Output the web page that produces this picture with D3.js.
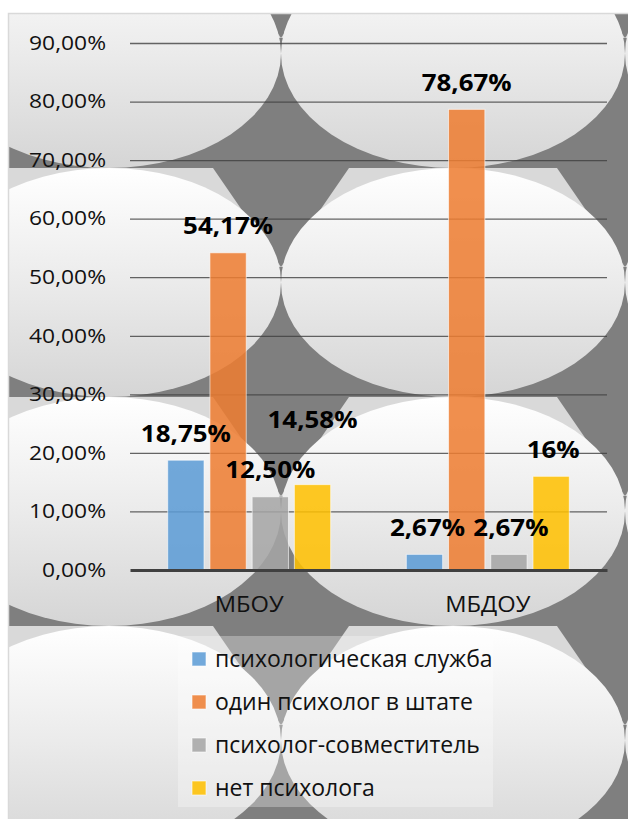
<!DOCTYPE html>
<html><head><meta charset="utf-8">
<script src="https://cdn.jsdelivr.net/npm/d3@7/dist/d3.min.js"></script>
<style>body{margin:0;background:#fff}svg{display:block}</style>
</head><body>
<svg id="chart" width="628" height="819"></svg>
<script>
// ---- data ----
const categories = ["МБОУ", "МБДОУ"];
const seriesNames = ["психологическая служба", "один психолог в штате", "психолог-совместитель", "нет психолога"];
const seriesColors = ["#5b9bd5", "#ed7d31", "#a5a5a5", "#ffc000"];
const valuesMBOU = [18.75, 54.17, 12.50, 14.58];
const valuesMBDOU = [2.67, 78.67, 2.67, 16];
const labelsMBOU = ["18,75%", "54,17%", "12,50%", "14,58%"];
const labelsMBDOU = ["2,67%", "78,67%", "2,67%", "16%"];
const yTicks = [0, 10, 20, 30, 40, 50, 60, 70, 80, 90];
const yTickLabels = ["0,00%", "10,00%", "20,00%", "30,00%", "40,00%", "50,00%", "60,00%", "70,00%", "80,00%", "90,00%"];

// ---- layout ----
const FONT = "'Open Sans', 'Noto Sans', sans-serif";
const plot = {left: 130, right: 607, top: 43, bottom: 570};
const labelShift = [[[0,0],[0,0],[0,0],[0,-38]], [[3,0],[0,0],[2,0],[2,0]]];
const svg = d3.select("#chart");
const defs = svg.append("defs");

// chart area clip
defs.append("clipPath").attr("id", "areaClip").append("rect")
  .attr("x", 9).attr("y", 14).attr("width", 640).attr("height", 820);
const tileW = 344, tileH = 229, tileX0 = -63, tileY0 = -61;
defs.append("clipPath").attr("id", "tileClip").append("rect")
  .attr("x", 0).attr("y", 0).attr("width", tileW).attr("height", tileH);
const grad = defs.append("linearGradient").attr("id", "bubble")
  .attr("x1", 0).attr("y1", 0).attr("x2", 0).attr("y2", 1);
grad.append("stop").attr("offset", 0).attr("stop-color", "#ffffff");
grad.append("stop").attr("offset", 0.5).attr("stop-color", "#ebebeb");
grad.append("stop").attr("offset", 1).attr("stop-color", "#d5d5d5");

// ---- background texture ----
const bg = svg.append("g").attr("clip-path", "url(#areaClip)");
bg.append("rect").attr("x", 0).attr("y", 0).attr("width", 700).attr("height", 900).attr("fill", "#7f7f7f");
for (let r = 0; r < 4; r++) {
  for (let c = 0; c < 3; c++) {
    const t = bg.append("g")
      .attr("transform", `translate(${tileX0 + c * tileW},${tileY0 + r * tileH})`)
      .attr("clip-path", "url(#tileClip)");
    t.append("polygon").attr("points", "68,0 276,0 344,99 0,99").attr("fill", "#d9d9d9");
    t.append("ellipse").attr("cx", tileW / 2).attr("cy", tileH / 2)
      .attr("rx", tileW / 2).attr("ry", tileH / 2).attr("fill", "url(#bubble)");
  }
}
// frame
svg.append("rect").attr("x", 8.5).attr("y", 13.5).attr("width", 640).attr("height", 820)
  .attr("fill", "none").attr("stroke", "#d9d9d9").attr("stroke-width", 1.5);

// legend box
svg.append("rect").attr("x", 178).attr("y", 636).attr("width", 315).attr("height", 171)
  .attr("fill", "#ffffff").attr("fill-opacity", 0.3);

// ---- scales ----
const x0 = d3.scaleBand().domain(categories).range([plot.left, plot.right])
  .paddingInner(0.317).paddingOuter(0.158);
const x1 = d3.scaleBand().domain(d3.range(seriesNames.length)).range([0, x0.bandwidth()])
  .paddingInner(0.14);
const y = d3.scaleLinear().domain([0, 90]).range([plot.bottom, plot.top]);

// gridlines
const grid = svg.append("g").attr("transform", `translate(${plot.left},0)`)
  .call(d3.axisLeft(y).tickValues(yTicks.slice(1)).tickSize(-(plot.right - plot.left)).tickFormat(""));
grid.select(".domain").remove();
grid.selectAll("line").attr("stroke", "#404040").attr("stroke-opacity", 0.8).attr("stroke-width", 1.3);

// y axis labels
const kY = 1.17;
const yAx = svg.append("g").attr("transform", `translate(${plot.left},0)`)
  .call(d3.axisLeft(y).tickValues(yTicks).tickSize(0).tickPadding(24)
    .tickFormat((d, i) => yTickLabels[i]));
yAx.select(".domain").remove();
yAx.selectAll("text").attr("font-family", FONT).attr("font-size", 19.5).attr("fill", "#111")
  .attr("x", -24 / kY).attr("transform", `scale(${kY},1)`);

// bars
const data = [valuesMBOU, valuesMBDOU];
const labels = [labelsMBOU, labelsMBDOU];
const groups = svg.append("g").selectAll("g").data(categories).join("g")
  .attr("transform", d => `translate(${x0(d)},0)`);
groups.selectAll("rect").data((d, ci) => data[ci].map((v, si) => ({v, si}))).join("rect")
  .attr("x", d => x1(d.si)).attr("width", x1.bandwidth())
  .attr("y", d => y(d.v)).attr("height", d => y(0) - y(d.v))
  .attr("fill", d => seriesColors[d.si]).attr("fill-opacity", 0.86)
  .attr("stroke", "#ffffff").attr("stroke-opacity", 0.6).attr("stroke-width", 1);

// axis line at 0
const xAx = svg.append("g").attr("transform", `translate(0,${plot.bottom})`)
  .call(d3.axisBottom(x0).tickSize(0).tickPadding(27));
xAx.select(".domain").attr("stroke", "#404040").attr("stroke-width", 3);
const kX = 1.13;
xAx.selectAll("text").attr("font-family", FONT).attr("font-size", 21).attr("fill", "#111")
  .attr("transform", function () { return `scale(${kX},1)`; })
  .attr("x", 0)
  .each(function () {
    const p = d3.select(this.parentNode);
  });
// re-center scaled category labels: move group transforms to account for scale
xAx.selectAll(".tick").each(function (d) {
  d3.select(this).attr("transform", `translate(${x0(d) + x0.bandwidth() / 2},0)`);
});

// data labels
const kL = 1.08;
categories.forEach((c, ci) => {
  data[ci].forEach((v, si) => {
    const cx = x0(c) + x1(si) + x1.bandwidth() / 2 + labelShift[ci][si][0];
    const cy = y(v) - 27 + labelShift[ci][si][1];
    svg.append("g").attr("transform", `translate(${cx},${cy}) scale(${kL},1)`)
      .append("text").attr("text-anchor", "middle").attr("dy", "0.36em")
      .attr("font-family", FONT).attr("font-weight", 700).attr("font-size", 24).attr("fill", "#000")
      .text(labels[ci][si]);
  });
});

// legend
const leg = svg.append("g");
seriesNames.forEach((name, i) => {
  const cy = 659 + i * 43;
  leg.append("rect").attr("x", 192).attr("y", cy - 7).attr("width", 14).attr("height", 14)
    .attr("fill", seriesColors[i]).attr("fill-opacity", 0.86)
    .attr("stroke", "#ffffff").attr("stroke-opacity", 0.6);
  leg.append("text").attr("x", 215).attr("y", cy).attr("dy", "0.33em")
    .attr("font-family", FONT).attr("font-size", 23).attr("fill", "#111").text(name);
});
</script>
</body></html>
